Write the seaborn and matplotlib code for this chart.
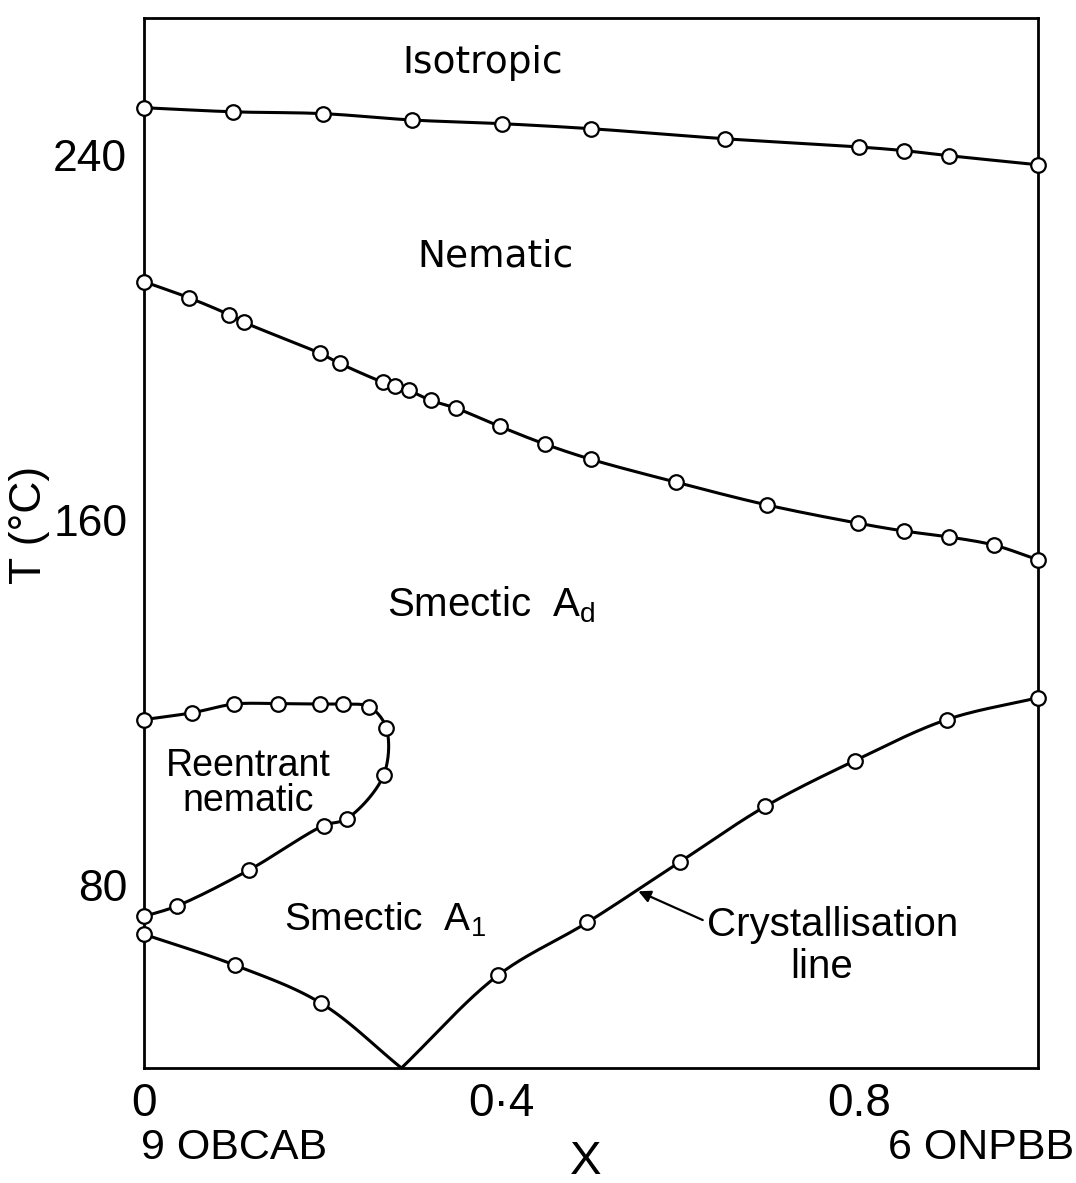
import numpy as np
import matplotlib
matplotlib.use("Agg")
import matplotlib.pyplot as plt
import seaborn as sns

# Phase boundaries of the 9OBCAB / 6ONPBB binary system (X = mole fraction of 6ONPBB)
iso_x = [0.0, 0.1, 0.2, 0.3, 0.4, 0.5, 0.65, 0.8, 0.85, 0.9, 1.0]
iso_T = [250.3, 249.4, 249.0, 247.6, 246.8, 245.7, 243.5, 241.7, 240.9, 239.8, 237.8]

nem_x = [0.0, 0.05, 0.095, 0.112, 0.197, 0.219, 0.267, 0.281, 0.296, 0.321, 0.349,
         0.398, 0.449, 0.5, 0.595, 0.697, 0.799, 0.85, 0.9, 0.951, 1.0]
nem_T = [212.2, 208.7, 205.0, 203.3, 196.5, 194.3, 190.2, 189.3, 188.4, 186.2, 184.5,
         180.5, 176.6, 173.3, 168.3, 163.3, 159.3, 157.6, 156.3, 154.5, 151.3]

# Reentrant nematic loop, listed along the boundary (top branch outward, lower branch back)
ren_x = [0.0, 0.054, 0.101, 0.150, 0.197, 0.223, 0.252, 0.271, 0.268, 0.227, 0.201,
         0.117, 0.037, 0.0]
ren_T = [116.3, 117.8, 119.7, 119.8, 119.7, 119.7, 119.1, 114.5, 104.1, 94.6, 93.1,
         83.3, 75.5, 73.2]

# Crystallisation line: two branches meeting at the eutectic
cryL_x = [0.0, 0.102, 0.198]
cryL_T = [69.3, 62.5, 54.2]
cryR_x = [0.396, 0.496, 0.6, 0.695, 0.795, 0.898, 1.0]
cryR_T = [60.3, 71.9, 85.2, 97.3, 107.3, 116.3, 121.1]
eut_x, eut_T = 0.288, 40.0

xticks = [0.0, 0.2, 0.4, 0.6, 0.8]
xticklabels = ["0", "", "0·4", "", "0.8"]
yticks = [80, 120, 160, 200, 240]
yticklabels = ["80", "", "160", "", "240"]

sns.set_style("white")
plt.rcParams["font.family"] = ["Liberation Sans", "DejaVu Sans"]
plt.rcParams["text.color"] = "black"
plt.rcParams["axes.labelcolor"] = "black"
plt.rcParams["xtick.color"] = "black"
plt.rcParams["ytick.color"] = "black"

fig = plt.figure(figsize=(10.76, 11.83), dpi=100)
ax = fig.add_axes([0.1338, 0.0972, 0.8309, 0.8878])
ax.set_xlim(0, 1)
ax.set_ylim(40, 270)


def centripetal_cr(P, n=24, alpha=0.5):
    """Smooth curve through the points P (display coords), centripetal Catmull-Rom."""
    P = np.asarray(P, float)
    ext = np.vstack([2 * P[0] - P[1], P, 2 * P[-1] - P[-2]])
    out = []
    for i in range(1, len(ext) - 2):
        p0, p1, p2, p3 = ext[i - 1:i + 3]

        def nxt(t, a, b):
            return t + max(np.linalg.norm(b - a), 1e-6) ** alpha

        t0 = 0.0
        t1 = nxt(t0, p0, p1)
        t2 = nxt(t1, p1, p2)
        t3 = nxt(t2, p2, p3)
        t = np.linspace(t1, t2, n, endpoint=False)[:, None]
        A1 = (t1 - t) / (t1 - t0) * p0 + (t - t0) / (t1 - t0) * p1
        A2 = (t2 - t) / (t2 - t1) * p1 + (t - t1) / (t2 - t1) * p2
        A3 = (t3 - t) / (t3 - t2) * p2 + (t - t2) / (t3 - t2) * p3
        B1 = (t2 - t) / (t2 - t0) * A1 + (t - t0) / (t2 - t0) * A2
        B2 = (t3 - t) / (t3 - t1) * A2 + (t - t1) / (t3 - t1) * A3
        out.append((t2 - t) / (t2 - t1) * B1 + (t - t1) / (t2 - t1) * B2)
    out.append(P[-1:])
    return np.vstack(out)


def smooth_line(xs, ys):
    disp = ax.transData.transform(np.column_stack([xs, ys]))
    curve = ax.transData.inverted().transform(centripetal_cr(disp))
    sns.lineplot(x=curve[:, 0], y=curve[:, 1], sort=False, estimator=None,
                 color="black", linewidth=2.2, ax=ax, zorder=2)


def markers(xs, ys):
    sns.scatterplot(x=xs, y=ys, marker="o", s=110, facecolor="white",
                    edgecolor="black", linewidth=1.6, ax=ax, zorder=3, clip_on=False)


smooth_line(iso_x, iso_T)
smooth_line(nem_x, nem_T)
smooth_line(ren_x, ren_T)
smooth_line(cryL_x + [eut_x], cryL_T + [eut_T])
smooth_line([eut_x] + cryR_x, [eut_T] + cryR_T)

for xs, ys in [(iso_x, iso_T), (nem_x, nem_T), (ren_x, ren_T),
               (cryL_x, cryL_T), (cryR_x, cryR_T)]:
    markers(xs, ys)

# Axes frame and ticks
for side in ["left", "right", "top", "bottom"]:
    ax.spines[side].set_visible(True)
    ax.spines[side].set_linewidth(2.0)
    ax.spines[side].set_color("black")

ax.set_xticks(xticks)
ax.set_xticklabels(xticklabels, fontsize=33)
ax.set_yticks(yticks)
ax.set_yticklabels(yticklabels, fontsize=32)
ax.tick_params(axis="x", direction="in", length=20, width=1.5, pad=10)
ax.tick_params(axis="y", direction="in", length=18, width=1.5, pad=12)
ax.set_xlabel("")
ax.set_ylabel("")

fig.text(0.027, 0.556, "T (°C)", rotation=90, ha="center", va="center", fontsize=32)
fig.text(0.5446, 0.008, "X", ha="center", va="baseline", fontsize=34)
fig.text(0.131, 0.0296, "9 OBCAB", ha="left", va="center", fontsize=31)
fig.text(0.998, 0.0296, "6 ONPBB", ha="right", va="center", fontsize=31)

# Phase region labels
ax.text(0.379, 257.9, "Isotropic", ha="center", va="baseline",
        family="DejaVu Sans", fontsize=27)
ax.text(0.393, 215.5, "Nematic", ha="center", va="baseline",
        family="DejaVu Sans", fontsize=27)
ax.text(0.272, 139.0, r"Smectic  A$_\mathregular{d}$", ha="left", va="baseline",
        fontsize=29)
ax.text(0.117, 104.0, "Reentrant", ha="center", va="baseline", fontsize=27)
ax.text(0.117, 96.2, "nematic", ha="center", va="baseline", fontsize=27)
ax.text(0.157, 70.0, r"Smectic  A$_\mathregular{1}$", ha="left", va="baseline",
        fontsize=28)
ax.text(0.63, 68.9, "Crystallisation", ha="left", va="baseline", fontsize=29)
ax.text(0.758, 59.7, "line", ha="center", va="baseline", fontsize=29)
ax.annotate("", xy=(0.553, 78.7), xytext=(0.625, 72.4),
            arrowprops=dict(arrowstyle="-|>", color="black", lw=1.6,
                            mutation_scale=18, shrinkA=0, shrinkB=0))

fig.savefig("out.png", dpi=100)
